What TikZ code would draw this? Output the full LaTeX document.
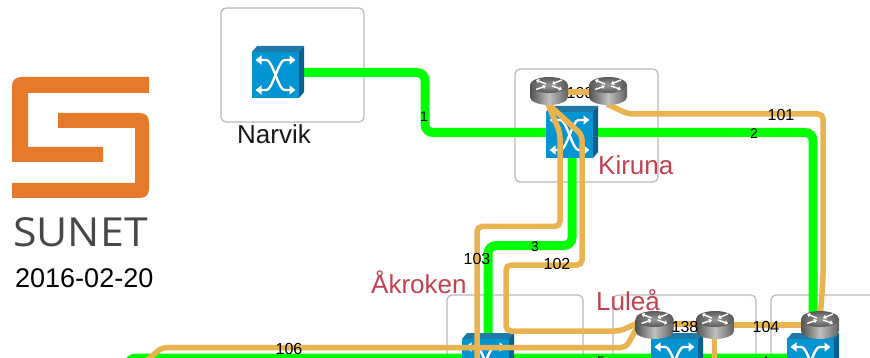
\documentclass[tikz,border=0pt]{standalone}
\usepackage{fontspec}
\setmainfont{Liberation Sans}
\newfontfamily\logofont{Open Sans}
\usetikzlibrary{arrows.meta}
\definecolor{netgreen}{HTML}{00FF00}
\definecolor{netorange}{HTML}{E9B44F}
\definecolor{logoorange}{HTML}{E57A2B}
\definecolor{boxgrey}{HTML}{B8B8B8}
\definecolor{cityred}{HTML}{C4414F}
\definecolor{swfront}{HTML}{0394D2}
\definecolor{swtop}{HTML}{1F7AA8}
\definecolor{swside}{HTML}{0B5F8C}
\tikzset{
  sitebox/.style={draw=boxgrey,line width=1.2pt,rounded corners=5pt},
  greenlink/.style={draw=netgreen,line width=9pt,rounded corners=8pt},
  orangelink/.style={draw=netorange,line width=5.5pt,rounded corners=5pt},
  city/.style={text=cityred,font=\fontsize{26}{28}\selectfont,inner sep=0pt,anchor=base west},
  blackcity/.style={text=black!90,font=\fontsize{26}{28}\selectfont,inner sep=0pt,anchor=base west},
  smalllabel/.style={text=black,font=\fontsize{14}{16}\selectfont,inner sep=0pt},
  numlabel/.style={text=black,font=\fontsize{16}{18}\selectfont,inner sep=0pt},
  whitearrow/.style={draw=white,line width=2.4pt,{Triangle[length=6pt,width=9pt]}-{Triangle[length=6pt,width=9pt]}},
  routerarrow/.style={draw=white,line width=1.4pt,-{Triangle[length=3pt,width=4.5pt]}},
  sw/.pic={
    \fill[swtop] (-23.5,-23) -- (-18.5,-29) -- (28.5,-29) -- (23.5,-23) -- cycle;
    \fill[swside] (23.5,-23) -- (28.5,-29) -- (28.5,17) -- (23.5,23) -- cycle;
    \fill[swfront] (-23.5,-23) rectangle (23.5,23);
    \draw[whitearrow] (-20,-15) -- (-9,-15) .. controls (-3,-15) and (3,15) .. (9,15) -- (20,15);
    \draw[whitearrow] (-20,15) -- (-9,15) .. controls (-3,15) and (3,-15) .. (9,-15) -- (20,-15);
  },
  rt/.pic={
    \path[left color=black!68,right color=black!62,middle color=black!25]
      (-19,0) -- (-19,12) arc[start angle=180,end angle=0,x radius=19,y radius=8]
      -- (19,0) -- cycle;
    \path[inner color=black!40,outer color=black!65] (0,0) ellipse[x radius=19,y radius=8];
    \draw[routerarrow] (-3,-1) -- (-13,-5);
    \draw[routerarrow] (-13,4.5) -- (-3,1);
    \draw[routerarrow] (3,1) -- (13,4.5);
    \draw[routerarrow] (13,-5) -- (3,-1);
  }
}
\begin{document}
\begin{tikzpicture}[x=1pt,y=-1pt]
\useasboundingbox (0,0) rectangle (870,358);
\clip (0,0) rectangle (870,358);
% device centres
\coordinate (nar) at (275.5,75);
\coordinate (kir) at (569.5,135);
\coordinate (akr) at (485.5,362);
\coordinate (lul) at (674.5,362);
\coordinate (bod) at (810.5,362);
\coordinate (rk1) at (549,85);
\coordinate (rk2) at (608,85);
\coordinate (rl1) at (654.5,319);
\coordinate (rl2) at (715,319);
\coordinate (rb) at (820,319);
% way points
\coordinate (nE) at (300,72.5);
\coordinate (w1a) at (425,72.5);
\coordinate (w1b) at (425,132.5);
\coordinate (kW) at (548,132.5);
\coordinate (kE) at (590,132.5);
\coordinate (w2a) at (813,132.5);
\coordinate (bN) at (813,330);
\coordinate (kS) at (572,150);
\coordinate (w3a) at (572,245.5);
\coordinate (w3b) at (488,245.5);
\coordinate (aN) at (488,345);
\coordinate (gs) at (128,385);
\coordinate (gc) at (128,358);
\coordinate (ge) at (800,358);
\coordinate (rk1b) at (548,104);
\coordinate (w103a) at (560,133);
\coordinate (w103b) at (560,226.5);
\coordinate (w103c) at (477,226.5);
\coordinate (w103d) at (477,370);
\coordinate (w102a) at (582,135);
\coordinate (w102b) at (582,265);
\coordinate (w102c) at (506,265);
\coordinate (w102d) at (506,331);
\coordinate (w102e) at (620,331);
\coordinate (rl1w) at (640,322);
\coordinate (w106a) at (626,347.5);
\coordinate (w106b) at (162,347.5);
\coordinate (w106c) at (138,368);
\coordinate (rk2b) at (607,104);
\coordinate (w101a) at (628,114);
\coordinate (w101b) at (823,114);
\coordinate (w101c) at (823,280);
\coordinate (rbt) at (820,320);
\coordinate (rl2s) at (714.5,330);
\coordinate (rl2d) at (714.5,370);
% logo
\fill[logoorange] (149,77) -- (22,77) .. controls (15,77) and (12,80) .. (12,87) -- (12,162) -- (103,162) -- (103,147) -- (28,147) -- (28,93) -- (149,93) -- cycle;
\fill[logoorange] (58,113) -- (139,113) .. controls (146,113) and (149,116) .. (149,123) -- (149,188) .. controls (149,195) and (146,198) .. (139,198) -- (12,198) -- (12,183) -- (135,183) -- (135,128) -- (58,128) -- cycle;
\node[text=black!72,font=\logofont\fontsize{40}{42}\selectfont,inner sep=0pt,anchor=base] (sunet) at (80.5,247) {\scalebox{1.07}[1]{SUNET}};
\node[blackcity,text=black,font=\fontsize{27}{28}\selectfont] (date) at (15,287) {2016-02-20};
% site boxes
\draw[sitebox] (221,8) rectangle (364,122);
\draw[sitebox] (515,69) rectangle (658,182);
\draw[sitebox] (447,295) rectangle (583,380);
\draw[sitebox] (613,295) rectangle (756,380);
\draw[sitebox] (771,295) rectangle (900,380);
% green links
\draw[greenlink] (nE) -- (w1a) -- (w1b) -- (kW);
\draw[greenlink] (kE) -- (w2a) -- (bN);
\draw[greenlink] (kS) -- (w3a) -- (w3b) -- (aN);
\draw[greenlink] (gs) -- (gc) -- (ge);
% switches
\pic at (nar) {sw};
\pic at (kir) {sw};
\pic at (akr) {sw};
\pic at (lul) {sw};
\pic at (bod) {sw};
\node[numlabel] (l100) at (580,93) {100};
% orange links
\draw[orangelink] (rk1) ++(0,7) -- ([yshift=-7pt]rk2);
\draw[orangelink] (rk2b) -- (w101a) -- (w101b) -- (w101c) -- (rbt);
\draw[orangelink] (rk1b) -- (w103a) -- (w103b) -- (w103c) -- (w103d);
\draw[orangelink] (rk1b) -- (w102a) -- (w102b) -- (w102c) -- (w102d) -- (w102e) -- (rl1w);
\draw[orangelink] (rl1w) -- (w106a) -- (w106b) -- (w106c);
\draw[orangelink] (rl1) ++(0,5) -- ([yshift=-5pt]rl2);
\draw[orangelink] (rl2) ++(0,6) -- ([yshift=-6pt]rb);
\draw[orangelink] (rl2s) -- (rl2d);
% routers
\pic at (rk1) {rt};
\pic at (rk2) {rt};
\pic at (rl1) {rt};
\pic at (rl2) {rt};
\pic at (rb) {rt};
% labels
\node[blackcity] (narvik) at (237,144) {Narvik};
\node[city] (kiruna) at (598,175) {Kiruna};
\node[city] (akroken) at (371,293) {Åkroken};
\node[city] (lulea) at (596,310) {Luleå};
\node[smalllabel] (l1) at (424,117) {1};
\node[smalllabel] (l2) at (754,134) {2};
\node[smalllabel] (l3) at (535,247) {3};
\node[smalllabel] (l5) at (601,362) {5};
\node[smalllabel] (l4) at (765,362) {4};
\node[numlabel] (l101) at (781,115) {101};
\node[numlabel] (l102) at (557,264) {102};
\node[numlabel] (l103) at (477,259) {103};
\node[numlabel] (l104) at (766,327) {104};
\node[numlabel] (l106) at (289,349) {106};
\node[numlabel] (l138) at (685,327) {138};
\end{tikzpicture}
\end{document}
